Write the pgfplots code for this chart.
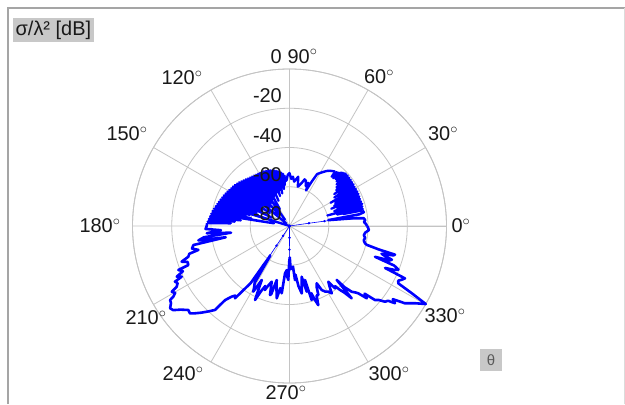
\documentclass[border=0pt]{standalone}
\usepackage{fontspec}
\setmainfont{Liberation Sans}
\usepackage{pgfplots}
\pgfplotsset{compat=1.18}
\usepgfplotslibrary{polar}
\usepackage{pgfplotstable}

\definecolor{gridgray}{RGB}{196,196,196}
\definecolor{boxgray}{RGB}{200,200,200}
\definecolor{framegray}{RGB}{165,165,165}
\definecolor{txt}{RGB}{25,25,25}
\definecolor{curve}{RGB}{0,0,255}

% angle [deg], sigma/lambda^2 [dB]
\pgfplotstableread{
a db
12 -42
12.5 -52
13 -41.6
13.5 -55
14 -42.3
14.5 -50
15 -41.5
15.5 -60
16 -42
16.5 -53
17 -41.2
17.5 -51
18 -41.8
18.5 -56
19 -41.4
19.5 -52
20 -42.2
20.5 -54
21 -41.5
21.5 -50
22 -41.9
22.5 -57
23 -41.3
23.5 -52
24 -42
24.5 -55
25 -41.2
25.5 -51
26 -41.7
26.5 -54
27 -41.1
27.5 -50
28 -41.8
28.5 -53
29 -41.2
29.5 -56
30 -41.9
30.5 -51
31 -41.3
31.5 -49
32 -41.7
32.5 -53
33 -41
33.5 -50
34 -41.5
34.5 -48
35 -41
35.5 -52
36 -41.4
36.5 -48
37 -40.9
37.5 -50
38 -41.3
38.5 -47
39 -40.8
39.5 -49
40 -41.2
40.5 -46
41 -40.7
41.5 -48
42 -41
42.5 -46
43 -40.8
43.5 -47
44 -41.2
44.5 -45
45 -41.5
45.5 -46.5
46 -42
46.5 -45.5
47 -42.8
47.5 -47
48 -43.2
48.5 -46
49 -43.5
49.5 -47
50 -43.8
}\tabUR

\pgfplotstableread{
a db
50 -43.8
52 -44.5
54 -45.2
56 -46.2
58 -47.5
60 -48.8
62 -50
63.5 -55
65 -60
66.5 -56
68 -58
70 -55.5
72 -55
74 -57
76 -58.5
78 -59.5
80 -54.5
82 -56
84 -57.3
86 -54.8
88 -56
90 -53
92 -54
93.5 -56.5
95 -57
96 -54
}\tabTop

\pgfplotstableread{
a db
96 -54
96.5 -59
97 -53.2
97.5 -57
98 -53.5
98.5 -61
99 -52.4
99.5 -56
100 -52.6
100.5 -60
101 -51.7
101.5 -57
102 -52
102.5 -63
103 -51.2
103.5 -58
104 -51.5
104.5 -56
105 -50.7
105.5 -61
106 -51
106.5 -58
107 -50.3
107.5 -64
108 -50.6
108.5 -57
109 -49.9
109.5 -60
110 -50.3
110.5 -56
111 -49.6
111.5 -62
112 -50
112.5 -58
113 -49.4
113.5 -66
114 -49.8
114.5 -57
115 -49.2
115.5 -60
116 -49.7
116.5 -56
117 -49.1
117.5 -63
118 -49.6
118.5 -58
119 -49
119.5 -70
120 -49.5
120.5 -57
121 -48.9
121.5 -61
122 -49.4
122.5 -56
123 -48.8
123.5 -64
124 -49.2
124.5 -58
125 -48.6
125.5 -76
126 -49
126.5 -59
127 -48.4
127.5 -62
128 -48.8
128.5 -57
129 -48.1
129.5 -65
130 -48.5
130.5 -58
131 -47.8
131.5 -61
132 -48.1
132.5 -72
133 -47.4
133.5 -57
134 -47.7
134.5 -62
135 -46.9
135.5 -58
136 -47.3
136.5 -66
137 -46.5
137.5 -57
138 -46.8
138.5 -61
139 -46
139.5 -56
140 -46.4
140.5 -78
141 -45.6
141.5 -58
142 -46
142.5 -63
143 -45.2
143.5 -56
144 -45.6
144.5 -60
145 -44.8
145.5 -55
146 -45.3
146.5 -68
147 -44.6
147.5 -57
148 -45
148.5 -61
149 -44.2
149.5 -55
150 -44.6
150.5 -64
151 -43.8
151.5 -56
152 -44.2
152.5 -59
153 -43.4
153.5 -54
154 -43.8
154.5 -70
155 -43
155.5 -56
156 -43.5
156.5 -60
157 -42.7
157.5 -54
158 -43.1
158.5 -62
159 -42.3
159.5 -55
160 -42.8
160.5 -58
161 -41.9
161.5 -53
162 -42.3
162.5 -80
163 -41.5
163.5 -55
164 -41.9
164.5 -59
165 -41
165.5 -52
166 -41.4
166.5 -57
167 -40.5
167.5 -51
168 -40.9
168.5 -60
169 -40
169.5 -50
170 -40.4
170.5 -72
171 -39.6
171.5 -52
172 -39.9
172.5 -49
173 -39.2
173.5 -55
174 -39.4
174.5 -48
175 -38.7
175.5 -52
176 -38.9
176.5 -47
177 -38.2
177.5 -50
178 -38
}\tabUL

\pgfplotstableread{
a db
178 -38
180 -37.8
182 -37.2
183.5 -45
185 -37.7
186.5 -50
187.5 -36
189 -33
190 -47
191.2 -30.1
193 -29
194.7 -32
195.5 -27
196.9 -26.1
198.3 -22.1
199.5 -25
201.1 -24.7
201.6 -19.1
203 -21
204.2 -17
205.2 -19.3
205.9 -15.1
207 -16
208.3 -14.7
209.2 -11.3
210.3 -12.5
211.3 -10.7
211.8 -8.4
213 -8
214.6 -6.1
215.9 -6.9
217.5 -10
219.7 -13
221.3 -12.5
222.7 -14.4
224.5 -17
226.5 -20
228.4 -22.8
229 -30
230.7 -33.5
232 -35
233 -33.9
234 -38.6
235.2 -43
235.8 -45
236.3 -56
237 -62
238.5 -46
240 -44
241.1 -41.8
242.8 -49.1
244 -43.7
245 -38.4
246.5 -44
248 -47
249 -45.1
250.5 -48
252.3 -50.2
253.3 -47
254.2 -43.5
255 -44
256.7 -51.7
258 -48
260 -42.6
261.5 -48
263.4 -45.5
264.6 -55.8
266.4 -57.5
267.5 -54
268.7 -52.5
269.6 -62
270.5 -64
271.5 -58
273 -58.4
274.9 -59.2
275.8 -52.3
277 -55
278.5 -49
280.3 -45.1
282 -50
283.5 -53.4
284.7 -45.4
286 -51.4
286.7 -40.6
288 -44
289 -40
290 -37.1
291.3 -42
292.7 -41.9
294 -46
295.4 -47.7
296.7 -43.5
298.5 -42
300.6 -41.1
302.1 -39.5
303.5 -43
304.9 -45.4
306.1 -40.7
307.2 -41.5
308.3 -38.5
309.5 -36
310.7 -31.4
311.2 -43.5
312 -38
313.4 -33.9
315 -32
315.6 -31
316.9 -26.1
318 -28.5
319.1 -22.4
320.3 -21
321.6 -17.9
322.8 -17
323.8 -13.4
324.7 -15.5
326.2 -9.2
328.4 -4.9
330.2 0
331.2 -8.9
332.2 -17.3
333.3 -18
334.5 -16.5
335.6 -15.4
336.3 -26.8
337.3 -22
338.2 -20.2
339.3 -23
340.2 -33.7
341 -26
341.8 -25.1
342.5 -28.9
343.2 -31
344.2 -25
344.8 -24.3
345.3 -33.1
346.3 -39.5
347.1 -40.5
349 -41.5
351 -41
353 -41.8
355 -41.3
357 -39.5
359 -40
360 -40.5
}\tabLow

\pgfplotstableread{
a db
0 -40.5
1.5 -41
3 -42
4.5 -41.3
6 -42
7 -48
8.6 -60
9.5 -44
10.5 -41.5
12 -42
}\tabWrap

\pgfplotstableread{
a db
7 -48
7.6 -54
7.9 -62
8.1 -70
8.3 -80
}\tabNullA

\pgfplotstableread{
a db
236.3 -56
236.4 -62
236.5 -68
236.6 -74
236.7 -80
}\tabNullB

\pgfplotstableread{
a db
269.6 -62
269.8 -68
270 -74
270.1 -80
}\tabNullC

\newcommand\dg{$^{\circ}$}

\begin{document}
\begin{tikzpicture}[x=1bp,y=1bp]
\path[use as bounding box] (0,0) rectangle (625,404);
\fill[white] (0,0) rectangle (625,404);
\draw[framegray, line width=1.6bp] (8,0) -- (8,396) -- (625,396);
\draw[framegray!40, line width=0.8bp] (624,0) -- (624,396);

\node[fill=boxgray, inner xsep=2.5bp, inner ysep=2.5bp, anchor=north west, text=txt,
      font=\fontsize{20}{22}\selectfont] at (13,386) {σ/λ² [dB]};
\node[fill=boxgray, minimum width=22bp, minimum height=22bp, inner sep=0pt,
      text=gray!70!black, font=\fontsize{15}{17}\selectfont] at (491,44) {θ};

\begin{polaraxis}[
  at={(289.5bp,178bp)}, anchor=center,
  scale only axis, width=314bp, height=314bp,
  xmin=0, xmax=360, ymin=0, ymax=80,
  clip=false,
  xtick={0,30,...,330},
  xticklabel={\relax},
  ytick={0,20,40,60,80},
  yticklabel={\relax},
  grid=major, major grid style={gridgray, line width=0.8bp},
  axis line style={gridgray, line width=0.8bp},
  major tick length=0pt,
]
\addplot[curve, line width=2.2bp, line join=round, no markers]
  table[x=a, y expr=\thisrow{db}+80] {\tabUR};
\addplot[curve, line width=2.4bp, line join=round, no markers]
  table[x=a, y expr=\thisrow{db}+80] {\tabTop};
\addplot[curve, line width=2.2bp, line join=round, no markers]
  table[x=a, y expr=\thisrow{db}+80] {\tabUL};
\addplot[curve, line width=2.6bp, line join=round, no markers]
  table[x=a, y expr=\thisrow{db}+80] {\tabLow};
\addplot[curve, line width=2.6bp, line join=round, no markers]
  table[x=a, y expr=\thisrow{db}+80] {\tabWrap};
\addplot[curve, line width=0.6bp, mark=*, mark size=0.9bp]
  table[x=a, y expr=\thisrow{db}+80] {\tabNullA};
\addplot[curve, line width=0.6bp, mark=*, mark size=0.9bp]
  table[x=a, y expr=\thisrow{db}+80] {\tabNullB};
\addplot[curve, line width=0.6bp, mark=*, mark size=0.9bp]
  table[x=a, y expr=\thisrow{db}+80] {\tabNullC};

\tikzset{rl/.style={anchor=south east, inner sep=0pt, xshift=-7.5bp, yshift=5bp,
  text=txt, font=\fontsize{20}{22}\selectfont}}
\node[rl] at (axis cs:90,80) {0};
\node[rl] at (axis cs:90,60) {-20};
\node[rl] at (axis cs:90,40) {-40};
\node[rl] at (axis cs:90,20) {-60};
\node[rl] at (axis cs:90,0) {-80};
\end{polaraxis}

% angle tick labels
\tikzset{al/.style={anchor=center, inner sep=0pt, text=txt, font=\fontsize{20}{22}\selectfont}}
\node[al] at (461,178) {0\dg};
\node[al] at (443,270) {30\dg};
\node[al] at (379,327) {60\dg};
\node[al] at (302.5,347.5) {90\dg};
\node[al] at (182,326) {120\dg};
\node[al] at (127,270) {150\dg};
\node[al] at (100,178) {180\dg};
\node[al] at (146,86) {210\dg};
\node[al] at (183,30) {240\dg};
\node[al] at (286,11) {270\dg};
\node[al] at (389,30) {300\dg};
\node[al] at (445,88) {330\dg};
\end{tikzpicture}
\end{document}
